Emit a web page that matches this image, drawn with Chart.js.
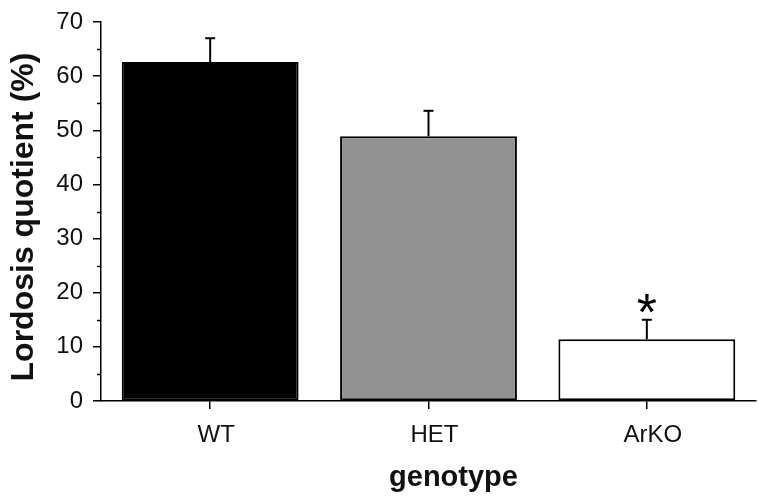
<!DOCTYPE html>
<html>
<head>
<meta charset="utf-8">
<script src="https://cdn.jsdelivr.net/npm/chart.js@4"></script>
<style>
  html, body { margin: 0; padding: 0; background: #fff; }
  #c { display: block; }
</style>
</head>
<body>
<canvas id="c" width="759" height="501"></canvas>
<script>
// lordosis quotient by genotype, mean + SEM (upper whisker only)
const categories = ['WT', 'HET', 'ArKO'];
const lqMean = [62.6, 48.9, 11.4];
const lqErr = [4.4, 4.7, 3.6];
const barColors = ['#000000', '#929292', '#ffffff'];
const sigMarks = ['', '', '*'];
const yMin = 0, yMax = 70, yMajor = 10, yMinor = 5;
const xTitle = 'genotype';
const yTitle = 'Lordosis quotient (%)';

const ink = '#111';
const font = 'Liberation Sans, Arial, sans-serif';

// whiskers, cap and significance mark, placed through the y scale
const errorBars = {
  id: 'errorBars',
  afterDatasetsDraw(chart) {
    const ctx = chart.ctx, y = chart.scales.y, meta = chart.getDatasetMeta(0);
    ctx.save();
    ctx.strokeStyle = '#000'; ctx.lineWidth = 2;
    meta.data.forEach((bar, i) => {
      const top = y.getPixelForValue(lqMean[i] + lqErr[i]);
      ctx.beginPath(); ctx.moveTo(bar.x, bar.y); ctx.lineTo(bar.x, top); ctx.stroke();
      ctx.beginPath(); ctx.moveTo(bar.x - 5, top); ctx.lineTo(bar.x + 5, top); ctx.stroke();
      if (sigMarks[i]) {
        ctx.fillStyle = '#000'; ctx.font = '52px ' + font;
        ctx.textAlign = 'center'; ctx.textBaseline = 'alphabetic';
        ctx.fillText(sigMarks[i], bar.x, top + 10);
      }
    });
    ctx.restore();
  }
};

// short minor ticks between the labelled ones, plus the two axis titles
const axisExtras = {
  id: 'axisExtras',
  afterDraw(chart) {
    const ctx = chart.ctx, y = chart.scales.y, area = chart.chartArea;
    ctx.save();
    ctx.strokeStyle = '#000'; ctx.lineWidth = 1.5;
    for (let v = yMin + yMinor; v < yMax; v += yMajor) {
      const py = Math.round(y.getPixelForValue(v)) + 0.5;
      ctx.beginPath(); ctx.moveTo(area.left - 4, py); ctx.lineTo(area.left, py); ctx.stroke();
    }
    ctx.fillStyle = ink; ctx.textAlign = 'center'; ctx.textBaseline = 'middle';
    ctx.font = 'bold 29px ' + font;
    ctx.fillText(xTitle, (area.left + area.right) / 2 + 25, 478);
    ctx.translate(24, 217);
    ctx.rotate(-Math.PI / 2);
    ctx.font = 'bold 32px ' + font;
    ctx.fillText(yTitle, 0, 0);
    ctx.restore();
  }
};

new Chart(document.getElementById('c'), {
  type: 'bar',
  data: {
    labels: categories,
    datasets: [{
      data: lqMean,
      backgroundColor: barColors,
      borderColor: '#000',
      borderWidth: 2,
      borderSkipped: false,
      barPercentage: 0.81,
      categoryPercentage: 1
    }]
  },
  options: {
    responsive: false,
    animation: false,
    layout: { padding: { top: 20, right: 3, left: 0, bottom: 0 } },
    plugins: { legend: { display: false }, tooltip: { enabled: false } },
    scales: {
      x: {
        afterFit: s => { s.height = 100; },
        grid: { display: true, drawOnChartArea: false, offset: false, tickLength: 8, color: '#000', lineWidth: 1.5 },
        border: { display: true, color: '#000', width: 1.5 },
        ticks: { color: ink, font: { family: font, size: 24 }, padding: 12, labelOffset: 6 }
      },
      y: {
        min: yMin, max: yMax,
        afterFit: s => { s.width = 101; },
        grid: { display: true, drawOnChartArea: false, tickLength: 8, color: '#000', lineWidth: 1.5 },
        border: { display: true, color: '#000', width: 1.5 },
        ticks: { stepSize: yMajor, color: ink, padding: 10, font: { family: font, size: 24, lineHeight: 1 } }
      }
    }
  },
  plugins: [errorBars, axisExtras]
});
</script>
</body>
</html>
